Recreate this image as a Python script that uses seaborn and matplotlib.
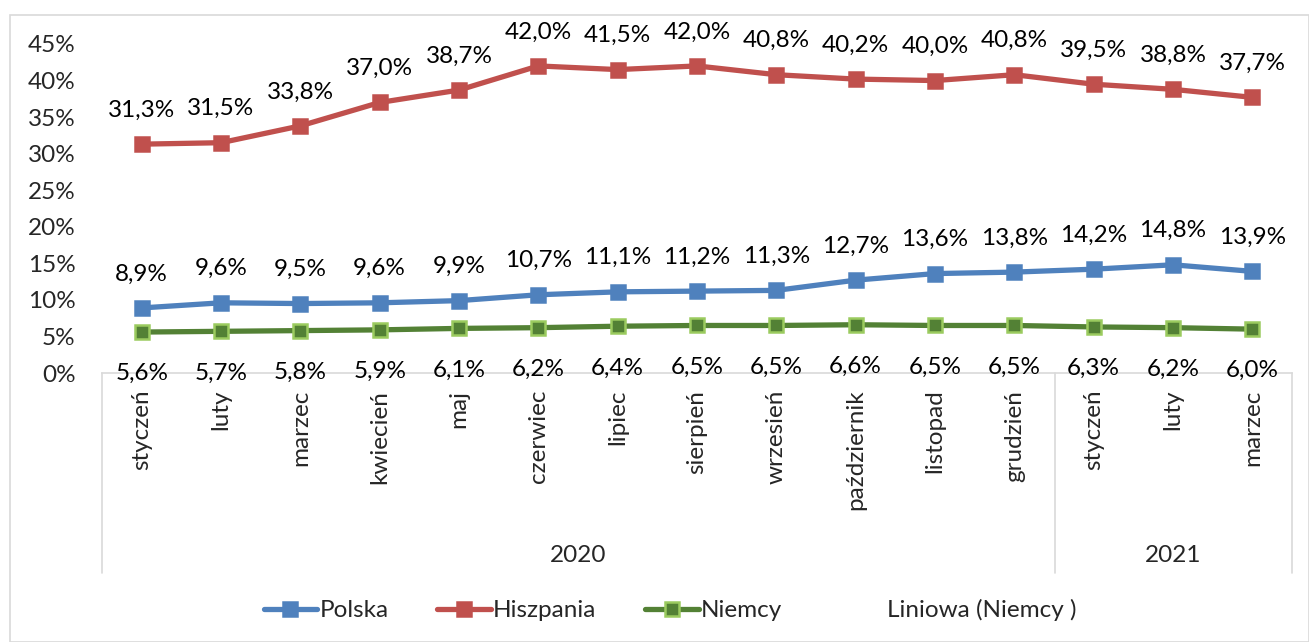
import seaborn as sns
import matplotlib.pyplot as plt
import matplotlib.patches as mpatches
from matplotlib.lines import Line2D
import pandas as pd

# --- dane ---
miesiace = ['styczeń', 'luty', 'marzec', 'kwiecień', 'maj', 'czerwiec', 'lipiec',
            'sierpień', 'wrzesień', 'październik', 'listopad', 'grudzień',
            'styczeń', 'luty', 'marzec']
lata = ['2020', '2021']
polska = [8.9, 9.6, 9.5, 9.6, 9.9, 10.7, 11.1, 11.2, 11.3, 12.7, 13.6, 13.8, 14.2, 14.8, 13.9]
hiszpania = [31.3, 31.5, 33.8, 37.0, 38.7, 42.0, 41.5, 42.0, 40.8, 40.2, 40.0, 40.8, 39.5, 38.8, 37.7]
niemcy = [5.6, 5.7, 5.8, 5.9, 6.1, 6.2, 6.4, 6.5, 6.5, 6.6, 6.5, 6.5, 6.3, 6.2, 6.0]

sns.set_theme(style='white')
plt.rcParams['font.family'] = ['Lato', 'DejaVu Sans']
FS = 17.5

W, H = 1309, 642
fig = plt.figure(figsize=(W / 100, H / 100), dpi=100)
fig.patch.set_facecolor('white')

# ramka wykresu
fig.patches.append(mpatches.Rectangle((10 / W, 0), (W - 10) / W, (H - 15) / H,
                                      transform=fig.transFigure, fill=False,
                                      edgecolor='#d9d9d9', linewidth=1.2))

x0, x1, ytop, ybot = 102, 1292, 44, 373
ax = fig.add_axes([x0 / W, (H - ybot) / H, (x1 - x0) / W, (ybot - ytop) / H])

idx = list(range(len(miesiace)))
serie = [
    ('Polska', polska, '#4f81bd', '#4f81bd', '#4f81bd', 1),
    ('Hiszpania', hiszpania, '#c0504d', '#c0504d', '#c0504d', 1),
    ('Niemcy', niemcy, '#538135', '#538135', '#9bcb5f', -1),
]

handles = []
for name, vals, lc, mfc, mec, side in serie:
    df = pd.DataFrame({'x': idx, 'y': vals})
    sns.lineplot(data=df, x='x', y='y', ax=ax, color=lc, linewidth=3.8,
                 marker='s', markersize=10, markerfacecolor=mfc,
                 markeredgecolor=mec, markeredgewidth=1.8, zorder=3)
    for xi, v in zip(idx, vals):
        lab = f'{v:.1f}'.replace('.', ',') + '%'
        ax.annotate(lab, (xi, v), xytext=(0, 24.5 if side > 0 else -30),
                    textcoords='offset points', ha='center', va='center',
                    fontsize=FS, color='black', annotation_clip=False)
    handles.append(Line2D([], [], color=lc, linewidth=3.8, marker='s', markersize=10,
                          markerfacecolor=mfc, markeredgecolor=mec, markeredgewidth=1.8))
handles.append(Line2D([], [], color='none'))

ax.set_xlim(-0.5, len(miesiace) - 0.5)
ax.set_ylim(0, 45)
ax.set_yticks(range(0, 46, 5))
ax.set_yticklabels([f'{t}%' for t in range(0, 46, 5)], fontsize=FS)
ax.tick_params(axis='y', length=0, pad=19)
ax.set_xticks(idx)
ax.set_xticklabels([])
ax.tick_params(axis='x', length=0)
ax.set_xlabel('')
ax.set_ylabel('')
for s in ['top', 'right', 'left']:
    ax.spines[s].set_visible(False)
ax.spines['bottom'].set_color('#d9d9d9')
ax.spines['bottom'].set_linewidth(1.2)

# etykiety miesięcy
for xi, m in zip(idx, miesiace):
    ax.annotate(m, (xi, 0), xytext=(0, -12), textcoords='offset points',
                rotation=90, ha='center', va='top', fontsize=FS,
                annotation_clip=False)

# linie grup i lata
ybot_grp = 573
for px in [x0, 1055, x1]:
    fig.add_artist(Line2D([px / W, px / W], [(H - ybot) / H, (H - ybot_grp) / H],
                          transform=fig.transFigure, color='#d9d9d9', linewidth=1.2))
fig.text((x0 + 1055) / 2 / W, (H - 555) / H, lata[0], ha='center', va='center', fontsize=FS)
fig.text((1055 + x1) / 2 / W, (H - 555) / H, lata[1], ha='center', va='center', fontsize=FS)

fig.legend(handles, ['Polska', 'Hiszpania', 'Niemcy', 'Liniowa (Niemcy )'],
           loc='center', bbox_to_anchor=(670 / W, (H - 610) / H), ncol=4,
           frameon=False, fontsize=FS, handlelength=2.2, handletextpad=0.1,
           columnspacing=2.0)

fig.savefig('out.png', dpi=100)
